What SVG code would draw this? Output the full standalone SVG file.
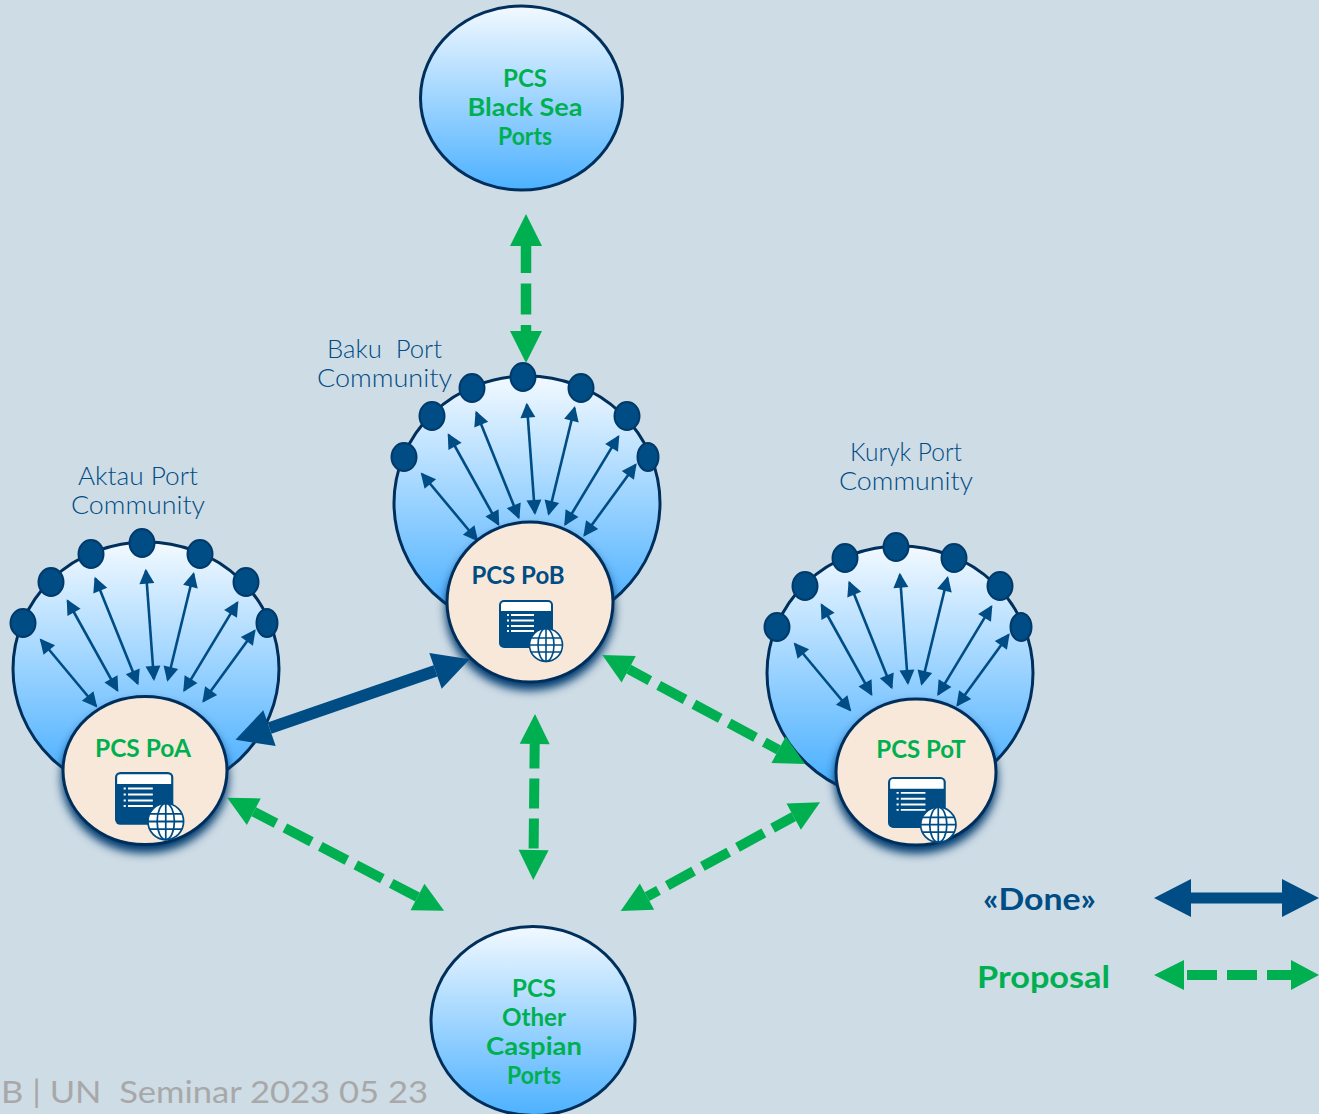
<svg xmlns="http://www.w3.org/2000/svg" width="1319" height="1114" viewBox="0 0 1319 1114">
<style>
text{font-family:"Lato","Open Sans","Liberation Sans",sans-serif;text-anchor:middle;white-space:pre}
.t{font-weight:700;font-size:24px;fill:#00b050}
.pcsb{font-weight:700;font-size:24px;fill:#004c84}
.lab{font-weight:300;font-size:25px;fill:#004c84}
.big{fill:url(#sky);stroke:#002f5c;stroke-width:3}
.dot{fill:#004c84;stroke:#003a6a;stroke-width:2}
.thin{stroke:#004c84;stroke-width:2.6;fill:none;marker-start:url(#th);marker-end:url(#th)}
.core{fill:#f7e8d9;stroke:#002f5c;stroke-width:3}
.gl{stroke:#00b050;stroke-width:10;fill:none;stroke-dasharray:30 10;marker-start:url(#gh);marker-end:url(#gh)}
.win{fill:#004c84}
.ln{stroke:#fff;stroke-width:1.8;fill:none}
.gb{fill:#fff;stroke:#004c84;stroke-width:1.6}
.gg{stroke:#004c84;stroke-width:1.6;fill:none}
</style>
<defs>
<linearGradient id="sky" x1="0" y1="0" x2="0" y2="1"><stop offset="0" stop-color="#f2f9ff"/><stop offset="1" stop-color="#4db1ff"/></linearGradient>
<linearGradient id="sky2" gradientUnits="userSpaceOnUse" x1="0" y1="377" x2="0" y2="610"><stop offset="0" stop-color="#f2f9ff"/><stop offset="1" stop-color="#4db1ff"/></linearGradient>
<filter id="sh" x="-20%" y="-20%" width="140%" height="145%"><feDropShadow dx="0" dy="7" stdDeviation="5" flood-color="#003a6e" flood-opacity="1"/></filter>
<marker id="th" markerUnits="userSpaceOnUse" markerWidth="16" markerHeight="16" refX="13" refY="8" orient="auto-start-reverse" overflow="visible"><path d="M0,0.5 L15,8 L0,15.5z" fill="#004c84"/></marker>
<marker id="gh" markerUnits="userSpaceOnUse" markerWidth="30" markerHeight="30" refX="0" refY="15" orient="auto-start-reverse" overflow="visible"><path d="M0,0 L30,15 L0,30z" fill="#00b050"/></marker>
<marker id="gh2" markerUnits="userSpaceOnUse" markerWidth="32" markerHeight="32" refX="0" refY="16" orient="auto-start-reverse" overflow="visible"><path d="M0,0 L32,16 L0,32z" fill="#00b050"/></marker>
<marker id="bh" markerUnits="userSpaceOnUse" markerWidth="36" markerHeight="38" refX="0" refY="19" orient="auto-start-reverse" overflow="visible"><path d="M0,0 L36,19 L0,38z" fill="#004c84"/></marker>
<g id="community">
<ellipse class="big" style="fill:url(#sky2)" cx="527" cy="503" rx="133" ry="127"/>
<line class="thin" x1="422" y1="474" x2="477" y2="540"/>
<line class="thin" x1="448.7" y1="435" x2="498.3" y2="524.3"/>
<line class="thin" x1="476.4" y1="412.6" x2="518.6" y2="517.4"/>
<line class="thin" x1="526.9" y1="404.7" x2="534.9" y2="513"/>
<line class="thin" x1="574.5" y1="408" x2="548.8" y2="513.8"/>
<line class="thin" x1="618.3" y1="436.7" x2="565.3" y2="524.3"/>
<line class="thin" x1="635.5" y1="464.9" x2="584.5" y2="535.1"/>
<ellipse class="dot" cx="404" cy="457" rx="12.5" ry="14"/>
<ellipse class="dot" cx="432" cy="416" rx="12.5" ry="14"/>
<ellipse class="dot" cx="472" cy="388" rx="12.5" ry="14"/>
<ellipse class="dot" cx="523" cy="377" rx="12.5" ry="14"/>
<ellipse class="dot" cx="581" cy="388" rx="12.5" ry="14"/>
<ellipse class="dot" cx="627" cy="416" rx="12.5" ry="14"/>
<ellipse class="dot" cx="648" cy="457" rx="10.5" ry="14"/>
</g>
<g id="icon">
<rect class="win" x="0" y="0" width="54" height="48" rx="5"/>
<path d="M2,11 V5 Q2,2 5,2 H49 Q52,2 52,5 V11z" fill="#fff"/>
<path class="ln" d="M12,15 H35 M12,20.500 H35 M12,26 H35 M12,31 H35"/>
<path class="ln" d="M8,15 H10 M8,20.500 H10 M8,26 H10 M8,31 H10"/>
<circle class="gb" cx="47" cy="45" r="16.500"/>
<path class="gg" d="M47,28.500 V61.500 M32,38 H62 M30.500,45 H63.500 M32,52 H62"/>
<ellipse class="gg" cx="47" cy="45" rx="8" ry="16.500"/>
</g>
</defs>
<rect id="background" width="1319" height="1114" fill="#cedce6"/>

<g id="node-black-sea">
<ellipse class="big" cx="521.500" cy="98" rx="101" ry="92"/>
<text class="t" x="525" y="87" textLength="44" lengthAdjust="spacingAndGlyphs">PCS</text>
<text class="t" x="525" y="116" textLength="115" lengthAdjust="spacingAndGlyphs">Black Sea</text>
<text class="t" x="525" y="145" textLength="54" lengthAdjust="spacingAndGlyphs">Ports</text>
</g>
<g id="node-other-caspian">
<ellipse class="big" cx="533" cy="1021" rx="102" ry="94.500"/>
<text class="t" x="534" y="997" textLength="44" lengthAdjust="spacingAndGlyphs">PCS</text>
<text class="t" x="534" y="1026" textLength="64" lengthAdjust="spacingAndGlyphs">Other</text>
<text class="t" x="534" y="1055" textLength="96" lengthAdjust="spacingAndGlyphs">Caspian</text>
<text class="t" x="534" y="1084" textLength="54" lengthAdjust="spacingAndGlyphs">Ports</text>
</g>

<g id="node-aktau">
<use href="#community" transform="translate(-381,166)"/>
<ellipse class="core" filter="url(#sh)" cx="145" cy="770.500" rx="82" ry="74"/>
<text class="t" x="143" y="757" textLength="96" lengthAdjust="spacingAndGlyphs">PCS PoA</text>
<use href="#icon" transform="translate(115,772) scale(1.08,1.1)"/>
<text class="lab" x="138" y="485" textLength="120" lengthAdjust="spacingAndGlyphs">Aktau Port</text>
<text class="lab" x="138" y="514" textLength="134" lengthAdjust="spacingAndGlyphs">Community</text>
</g>
<g id="node-baku">
<use href="#community"/>
<ellipse class="core" filter="url(#sh)" cx="530" cy="602" rx="83" ry="80"/>
<text class="pcsb" x="518" y="584">PCS PoB</text>
<use href="#icon" transform="translate(499,600)"/>
<text class="lab" x="384.500" y="358" textLength="115" lengthAdjust="spacingAndGlyphs">Baku  Port</text>
<text class="lab" x="384.500" y="387" textLength="135" lengthAdjust="spacingAndGlyphs">Community</text>
</g>
<g id="node-kuryk">
<use href="#community" transform="translate(373,170)"/>
<ellipse class="core" filter="url(#sh)" cx="916" cy="772" rx="80" ry="73"/>
<text class="t" x="921" y="758">PCS PoT</text>
<use href="#icon" transform="translate(888,777) scale(1.07,1.06)"/>
<text class="lab" x="906" y="461" textLength="112" lengthAdjust="spacingAndGlyphs">Kuryk Port</text>
<text class="lab" x="906" y="490" textLength="134" lengthAdjust="spacingAndGlyphs">Community</text>
</g>

<g id="connectors">
<line x1="526" y1="246" x2="526" y2="331" stroke="#00b050" stroke-width="10.500" fill="none" stroke-dasharray="31 10.500" stroke-dashoffset="4" marker-start="url(#gh2)" marker-end="url(#gh2)"/>
<line x1="269.500" y1="728.100" x2="435.500" y2="670.900" stroke="#004c84" stroke-width="12" marker-start="url(#bh)" marker-end="url(#bh)"/>
<line class="gl" x1="628.700" y1="669.200" x2="778.600" y2="749.800" stroke-dashoffset="6"/>
<line class="gl" x1="534.700" y1="744" x2="533.600" y2="850" stroke-dashoffset="5.500"/>
<line class="gl" x1="253.800" y1="811.700" x2="417.500" y2="897" stroke-dashoffset="5"/>
<line class="gl" x1="793.700" y1="816.700" x2="647" y2="896.600" stroke-dashoffset="6"/>
</g>

<g id="legend">
<text x="1039.500" y="910" textLength="113" lengthAdjust="spacingAndGlyphs" style="font-weight:700;font-size:30px;fill:#004c84">«Done»</text>
<line x1="1191" y1="898" x2="1282" y2="898" stroke="#004c84" stroke-width="11"/>
<path d="M1154,898 L1191,879 V917z M1319,898 L1282,879 V917z" fill="#004c84"/>
<text x="1043.500" y="988" textLength="133" lengthAdjust="spacingAndGlyphs" style="font-weight:700;font-size:31px;fill:#00b050">Proposal</text>
<path d="M1154,975 L1184,960 V990z M1319,975 L1291,960 V990z" fill="#00b050"/>
<path d="M1187,975 H1217 M1227,975 H1257 M1267,975 H1292" stroke="#00b050" stroke-width="10" fill="none"/>
</g>

<text id="footer" x="1" y="1103" textLength="427" lengthAdjust="spacingAndGlyphs" style="text-anchor:start;font-weight:400;font-size:31px;fill:#a8a8a8">B | UN  Seminar 2023 05 23</text>
</svg>
